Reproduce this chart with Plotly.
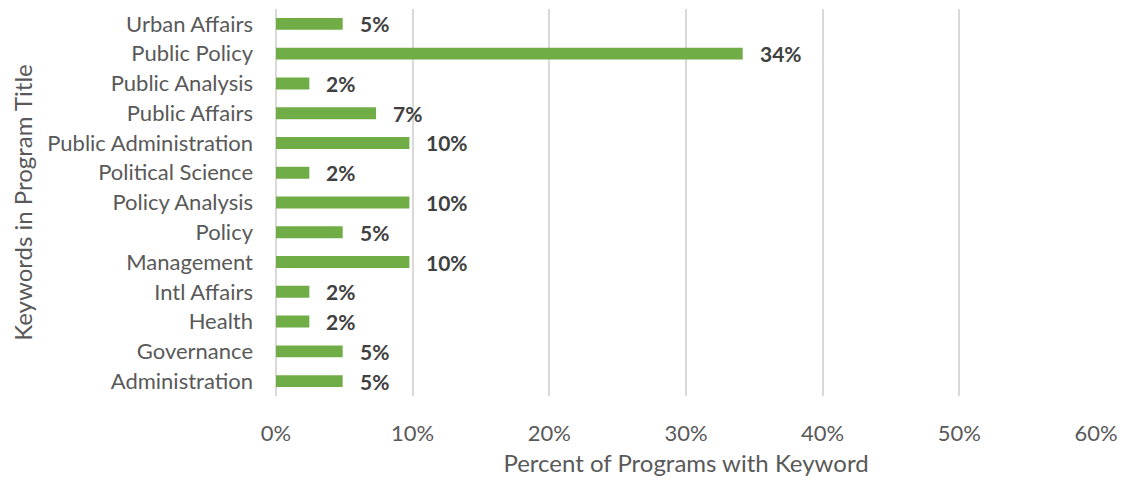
import plotly.graph_objects as go

categories = ["Urban Affairs", "Public Policy", "Public Analysis", "Public Affairs",
              "Public Administration", "Political Science", "Policy Analysis", "Policy",
              "Management", "Intl Affairs", "Health", "Governance", "Administration"]
values = [4.88, 34.15, 2.44, 7.32, 9.76, 2.44, 9.76, 4.88, 9.76, 2.44, 2.44, 4.88, 4.88]
labels = ["5%", "34%", "2%", "7%", "10%", "2%", "10%", "5%", "10%", "2%", "2%", "5%", "5%"]
tick_vals = [0, 10, 20, 30, 40, 50, 60]
tick_text = ["0%", "10%", "20%", "30%", "40%", "50%", "60%"]

FONT = "Lato, Open Sans, sans-serif"

fig = go.Figure(go.Bar(
    y=categories, x=values, orientation="h",
    marker=dict(color="#70ad47", line=dict(width=0)),
    hoverinfo="skip",
))

for c, v, t in zip(categories, values, labels):
    fig.add_annotation(x=v, y=c, text="<b>%s</b>" % t, showarrow=False,
                       xanchor="left", xshift=15, yshift=0,
                       font=dict(family=FONT, size=21, color="#404040"))

fig.update_layout(
    width=1118, height=472,
    margin=dict(l=268, r=30, t=1, b=84, autoexpand=False),
    paper_bgcolor="white", plot_bgcolor="white",
    bargap=0.6, showlegend=False,
    font=dict(family=FONT, size=22, color="#595959"),
    xaxis=dict(range=[0, 60], tickvals=tick_vals, ticktext=tick_text,
               showgrid=True, gridcolor="#d9d9d9", gridwidth=1.5,
               zeroline=True, zerolinecolor="#d9d9d9", zerolinewidth=1.5,
               ticks="", ticklabelstandoff=22, automargin=False,
               tickfont=dict(family=FONT, size=22, color="#595959"),
               title=dict(text="Percent of Programs with Keyword", standoff=10,
                          font=dict(family=FONT, size=24, color="#595959"))),
    yaxis=dict(categoryorder="array", categoryarray=categories[::-1],
               showgrid=False, ticks="", ticklabelstandoff=22, automargin=False,
               tickfont=dict(family=FONT, size=22, color="#595959"),
               title=dict(text="Keywords in Program Title", standoff=10,
                          font=dict(family=FONT, size=24, color="#595959"))),
)

fig.write_html("out.html")
